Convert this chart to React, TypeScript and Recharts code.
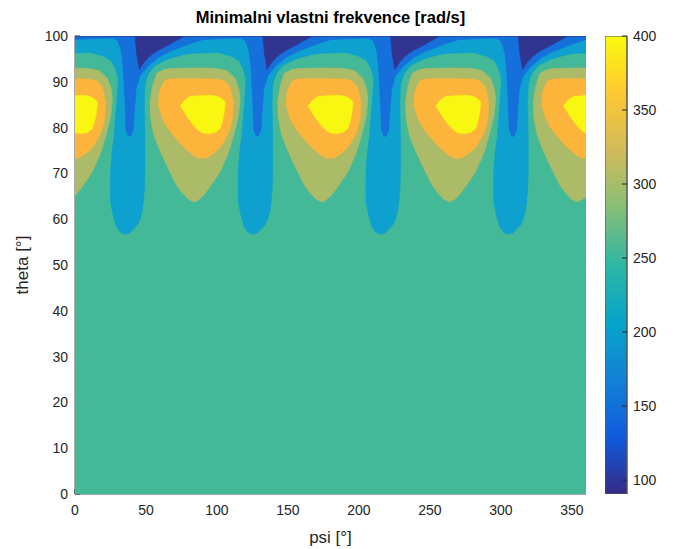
import React from 'react';
import { ScatterChart, Scatter, XAxis, YAxis, BarChart, Bar } from 'recharts';

// ---- axis ticks ----
const PSI_TICKS = [0, 50, 100, 150, 200, 250, 300, 350];
const THETA_TICKS = [0, 10, 20, 30, 40, 50, 60, 70, 80, 90, 100];
const CB_TICKS = [100, 150, 200, 250, 300, 350, 400];
const CB_RANGE: [number, number] = [90.6, 400];

// ---- positions of the repeating pattern (psi of blob peaks) ----
const peakPsi = [0, 90, 180, 270, 360];
const periodStarts = [-90, 0, 90, 180, 270, 360];

// ---- contour boundaries, [psi offset from peak, theta] ----
// lower edge of region < 250 (cyan), one period
const cyanEdge: [number, number][] = [
  [0, 96.3], [10.6, 96.4], [20, 95.6], [25.5, 94.6], [28.5, 92.8], [30.5, 90.5], [29.8, 87.5],
  [29.4, 85.4], [28.3, 81.5], [27.5, 78.2], [26, 74.5], [25.1, 70.9], [24.9, 67], [25.1, 63.6],
  [27, 60.7], [29.4, 58.2], [32, 57.1], [35.2, 56.7], [38.5, 57], [41.1, 57.8], [44, 58.8],
  [45.8, 60], [47.5, 62], [48.1, 63.6], [49, 67], [49.3, 70.9], [49.3, 78.2], [48.8, 85.4],
  [49.3, 89.1], [50.5, 90.8], [52.4, 92], [56.3, 93.5], [62.2, 94.5], [66.9, 95.1], [75, 95.8],
  [82, 96.2],
];
// lower edge of region < 200 (blue), one period
const blueEdge: [number, number][] = [
  [0, 99.2], [10, 99.4], [20, 99.5], [27, 99.5], [29.5, 99.1], [31.5, 97.8], [32.9, 96.2], [34, 92.7],
  [35.2, 85.4], [35.9, 79.6], [37.2, 78.4], [38.7, 78], [40, 78.6], [41.1, 79.6], [41.8, 83.3],
  [43, 88.3], [45.8, 91.3], [51.7, 93.5], [58.7, 95.3], [66.9, 96.6], [77.5, 97.9], [84, 98.6],
];
// lower edge of region < 150 (navy), one period
const navyEdge: [number, number][] = [
  [0, 100], [42.3, 100], [43.5, 96], [45.3, 92.7], [48.5, 94.2], [51.7, 95.3], [55.5, 96.3],
  [59.9, 97.1], [66.9, 98.2], [72, 99.1], [77.5, 100],
];
// blobs around each peak: region > 300 (olive), > 350 (orange), > 400 (yellow)
const oliveBlob: [number, number][] = [
  [-37.2, 85.3], [-35.5, 89], [-32.5, 91.8], [-28, 92.6], [-23.1, 92.9], [-10, 93], [0, 93],
  [9.8, 92.9], [17, 92.4], [22.7, 90.8], [25.5, 88.5], [26.3, 86], [25.1, 82.4], [22, 78.5],
  [18, 74.4], [12, 70.2], [5.1, 67.1], [0, 65], [-4, 64], [-6.7, 63.8], [-10, 64.3], [-14, 65.6],
  [-18.4, 67.4], [-25, 71.5], [-31.3, 75.8], [-34.5, 78.5], [-36, 80.9], [-37, 83],
];
const orangeBlob: [number, number][] = [
  [-27.8, 90], [-24, 90.6], [-10, 90.7], [5, 90.6], [10, 90.6], [15, 90.3], [19.2, 88.9],
  [21.5, 85.7], [21.1, 82.4], [19.5, 80], [16.9, 78], [13, 76], [9.8, 74.9], [5, 73.8], [2, 73.3],
  [-2, 73.3], [-6, 73.8], [-13.7, 75.8], [-20, 78], [-25.4, 80.2], [-29, 82.5], [-31.3, 84.9],
  [-30.5, 88],
];
const yellowBlob: [number, number][] = [
  [-16, 84.7], [-12.5, 86], [-9, 86.8], [0, 87], [7.5, 87], [12, 86.6], [15.7, 85.7], [15.6, 84.5],
  [15, 83.1], [13.8, 81.3], [12.2, 79.8], [9, 79], [5.1, 78.7], [0, 78.8], [-3.1, 79.4],
  [-6.5, 80.5], [-10.2, 82], [-13, 83.3],
];

const COLORS = {
  teal: '#43b998',
  cyan: '#0ea1cf',
  blue: '#1570dc',
  navy: '#31358f',
  olive: '#acbb68',
  orange: '#fcb43b',
  yellow: '#f7f712',
};
const PARULA = ['#352a87', '#0f5cdd', '#1481d6', '#06a4ca', '#2eb7a4', '#87bf77', '#d1bb59', '#fec832', '#f9fb0e'];

type Pt = { psi: number; theta: number };

function band(edge: [number, number][]): Pt[] {
  const pts: Pt[] = [];
  periodStarts.forEach((s) => edge.forEach(([dp, th]) => pts.push({ psi: s + dp, theta: th })));
  const end = periodStarts[periodStarts.length - 1] + 90;
  pts.push({ psi: end, theta: edge[0][1] });
  pts.push({ psi: end, theta: 100 });
  pts.push({ psi: periodStarts[0], theta: 100 });
  return pts;
}
function blob(shape: [number, number][], c: number): Pt[] {
  return shape.map(([dp, th]) => ({ psi: c + dp, theta: th }));
}

const background: Pt[] = [
  { psi: 0, theta: 0 }, { psi: 360, theta: 0 }, { psi: 360, theta: 100 }, { psi: 0, theta: 100 },
];

const regions: { key: string; data: Pt[]; color: string }[] = [
  { key: 'bg', data: background, color: COLORS.teal },
  { key: 'cyan', data: band(cyanEdge), color: COLORS.cyan },
  { key: 'blue', data: band(blueEdge), color: COLORS.blue },
  { key: 'navy', data: band(navyEdge), color: COLORS.navy },
  ...peakPsi.map((c) => ({ key: 'olive' + c, data: blob(oliveBlob, c), color: COLORS.olive })),
  ...peakPsi.map((c) => ({ key: 'orange' + c, data: blob(orangeBlob, c), color: COLORS.orange })),
  ...peakPsi.map((c) => ({ key: 'yellow' + c, data: blob(yellowBlob, c), color: COLORS.yellow })),
];

const cbData = [{ name: 'cb', range: CB_RANGE }];

const TXT = '#262626';
const BOX = '#555555';
const FONT = '"Liberation Sans", Arial, Helvetica, sans-serif';
const tickStyle = { fill: TXT, fontSize: 14, fontFamily: FONT };

const noShape = () => <g />;

export default function App() {
  return (
    <div style={{ position: 'absolute', left: 0, top: 0, width: 674, height: 549, background: '#fff', fontFamily: FONT }}>
      <div
        style={{
          position: 'absolute', left: 75, width: 511, top: 7, textAlign: 'center',
          fontWeight: 'bold', fontSize: 16.5, color: '#000', lineHeight: '20px',
        }}
      >
        Minimalni vlastni frekvence [rad/s]
      </div>
      <div style={{ position: 'absolute', left: 0, top: 0 }}>
        <ScatterChart width={674} height={549} margin={{ top: 36, right: 88, bottom: 0, left: 0 }}>
          <XAxis
            xAxisId="x" dataKey="psi" type="number" domain={[0, 360]} ticks={PSI_TICKS}
            allowDataOverflow height={55} tickSize={-5} tickMargin={16}
            tick={tickStyle} axisLine={{ stroke: BOX }} tickLine={{ stroke: TXT }}
            label={{ value: 'psi [°]', position: 'insideBottom', offset: 6, fill: TXT, fontSize: 17, fontFamily: FONT }}
          />
          <YAxis
            yAxisId="y" dataKey="theta" type="number" domain={[0, 100]} ticks={THETA_TICKS}
            allowDataOverflow width={75} tickSize={-5} tickMargin={12}
            tick={tickStyle} axisLine={{ stroke: BOX }} tickLine={{ stroke: TXT }}
            label={{ value: 'theta [°]', angle: -90, position: 'insideLeft', offset: 22, fill: TXT, fontSize: 17, fontFamily: FONT, style: { textAnchor: 'middle' } }}
          />
          <XAxis
            xAxisId="top" orientation="top" type="number" domain={[0, 360]} ticks={PSI_TICKS}
            allowDataOverflow height={0} tickSize={-5} tick={false}
            axisLine={{ stroke: BOX }} tickLine={{ stroke: TXT }}
          />
          <YAxis
            yAxisId="right" orientation="right" type="number" domain={[0, 100]} ticks={THETA_TICKS}
            allowDataOverflow width={0} tickSize={-5} tick={false}
            axisLine={{ stroke: BOX }} tickLine={{ stroke: TXT }}
          />
          {regions.map((r) => (
            <Scatter
              key={r.key}
              data={r.data}
              xAxisId="x"
              yAxisId="y"
              fill={r.color}
              shape={noShape}
              line={{ fill: r.color, stroke: r.color, strokeWidth: 0.6 }}
              lineType="joint"
              lineJointType="linear"
              legendType="none"
              isAnimationActive={false}
            />
          ))}
        </ScatterChart>
      </div>
      <div style={{ position: 'absolute', left: 605, top: 0 }}>
        <BarChart width={69} height={549} data={cbData} margin={{ top: 36, right: 0, bottom: 55, left: 0 }} barCategoryGap={0}>
          <defs>
            <linearGradient id="parulaGrad" x1="0" y1="1" x2="0" y2="0">
              {PARULA.map((c, i) => (
                <stop key={i} offset={`${(i / (PARULA.length - 1)) * 100}%`} stopColor={c} />
              ))}
            </linearGradient>
          </defs>
          <XAxis dataKey="name" hide />
          <YAxis
            orientation="right" type="number" domain={CB_RANGE} ticks={CB_TICKS} allowDataOverflow
            width={47} tickSize={-5} tickMargin={11} tick={tickStyle}
            axisLine={{ stroke: BOX }} tickLine={{ stroke: TXT }}
          />
          <Bar dataKey="range" fill="url(#parulaGrad)" stroke={BOX} strokeWidth={1} isAnimationActive={false} />
        </BarChart>
      </div>
    </div>
  );
}
